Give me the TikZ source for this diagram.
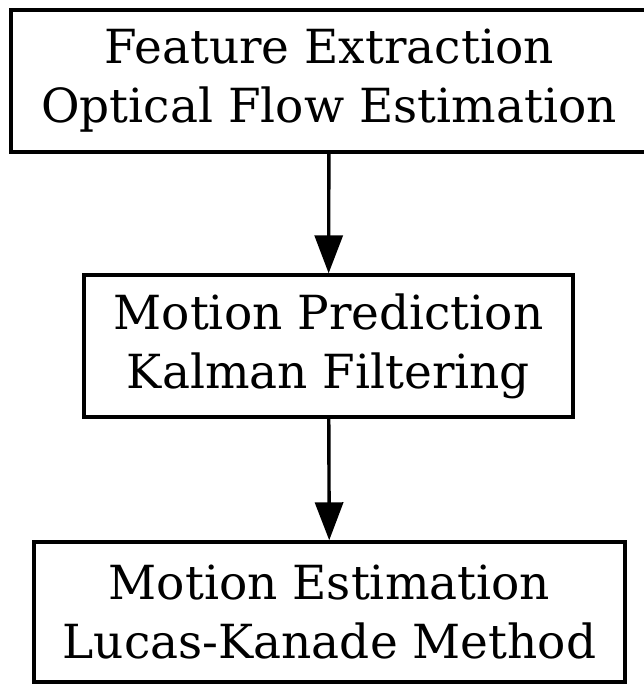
\documentclass[tikz,border=0pt]{standalone}
\usepackage{fontspec}
\setmainfont{DejaVu Serif}
\usetikzlibrary{arrows.meta}
\begin{document}
\begin{tikzpicture}[x=1pt,y=1pt,
 box/.style={draw, line width=3.4pt, align=center, font=\fontsize{47}{59}\selectfont, inner sep=0pt},
 conn/.style={line width=3.4pt, -{Triangle[width=28pt,length=38pt]}}]
\useasboundingbox (0,0) rectangle (644,685);
\node[box, minimum width=636, minimum height=142] (a) at (329,604) {Feature Extraction\\Optical Flow Estimation};
\node[box, minimum width=489, minimum height=142] (b) at (328.5,339) {Motion Prediction\\Kalman Filtering};
\node[box, minimum width=591, minimum height=140] (c) at (329.5,73) {Motion Estimation\\Lucas-Kanade Method};
\draw[conn] (a) -- (b);
\draw[conn] (b) -- (c);
\end{tikzpicture}
\end{document}
